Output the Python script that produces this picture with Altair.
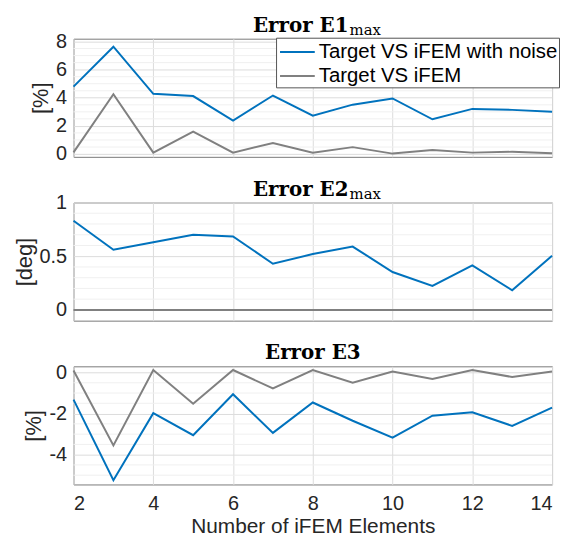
import altair as alt
import pandas as pd

x_vals = list(range(2, 15))
x_ticks = [2, 4, 6, 8, 10, 12, 14]
series = ["Target VS iFEM with noise", "Target VS iFEM"]
colors = ["#0072BD", "#808080"]

e1_noise = [4.79, 7.63, 4.28, 4.12, 2.38, 4.16, 2.73, 3.51, 3.95, 2.47, 3.21, 3.14, 3.0]
e1_clean = [0.12, 4.25, 0.1, 1.6, 0.1, 0.79, 0.1, 0.49, 0.03, 0.28, 0.1, 0.16, 0.06]
e2_noise = [0.83, 0.56, 0.63, 0.70, 0.684, 0.43, 0.52, 0.59, 0.353, 0.223, 0.415, 0.183, 0.505]
e2_clean = [0, 0, 0, 0, 0, 0, 0, 0, 0, 0, 0, 0, 0]
e3_noise = [-1.32, -5.24, -1.98, -3.05, -1.06, -2.94, -1.46, -2.35, -3.17, -2.1, -1.94, -2.6, -1.71]
e3_clean = [0.1, -3.55, 0.12, -1.52, 0.12, -0.78, 0.12, -0.5, 0.05, -0.32, 0.12, -0.22, 0.05]

e1_major = [0, 2, 4, 6, 8]
e1_minor = [0.5, 1, 1.5, 2.5, 3, 3.5, 4.5, 5, 5.5, 6.5, 7, 7.5]
e2_major = [0, 0.5, 1]
e2_minor = [0.1, 0.2, 0.3, 0.4, 0.6, 0.7, 0.8, 0.9]
e3_major = [-4, -2, 0]
e3_minor = [-5, -4.5, -3.5, -3, -2.5, -1.5, -1, -0.5]

W = 482
FONT = "Liberation Sans"
SPLIT = 277


def panel(noise, clean, domain, major, minor, ytitle, tmain, tsub, show_x, legend, h):
    df = pd.DataFrame({
        "x": x_vals + x_vals,
        "y": noise + clean,
        "s": [series[0]] * len(x_vals) + [series[1]] * len(x_vals),
    })
    yscale = alt.Scale(domain=domain, nice=False, zero=False)
    xscale = alt.Scale(domain=[2, 14], nice=False, zero=False)
    if show_x:
        xaxis = alt.Axis(values=x_ticks, grid=True, title="Number of iFEM Elements",
                         labelPadding=9, titlePadding=2, titleFontSize=21)
    else:
        xaxis = alt.Axis(values=x_ticks, grid=True, labels=False, title=None)
    yaxis = alt.Axis(values=major, title=ytitle, labelExpr="datum.value + ''",
                     labelPadding=7, titlePadding=3)
    minor_rules = alt.Chart(pd.DataFrame({"y": minor})).mark_rule(
        color="#f0f0f0", strokeWidth=1
    ).encode(y=alt.Y("y:Q", scale=yscale, axis=yaxis))
    if legend:
        leg = alt.Legend(orient="none", legendX=204, legendY=-1, title=None,
                         strokeColor="#555555", fillColor="white", padding=1,
                         labelFontSize=20.5, labelFont=FONT, labelColor="black",
                         symbolType="M-1.4,0H1.4", symbolStrokeWidth=2, symbolSize=625,
                         symbolOffset=7, labelOffset=8, labelLimit=0, rowPadding=-3,
                         cornerRadius=0)
    else:
        leg = None
    lines = alt.Chart(df).mark_line(strokeWidth=2).encode(
        x=alt.X("x:Q", scale=xscale, axis=xaxis),
        y=alt.Y("y:Q", scale=yscale, axis=yaxis),
        color=alt.Color("s:N", scale=alt.Scale(domain=series, range=colors), legend=leg),
    )
    layers = [minor_rules, lines]
    if tsub:
        t1 = alt.Chart(pd.DataFrame({"t": [tmain]})).mark_text(
            font="DejaVu Serif", fontWeight="bold", fontSize=20, align="right",
            baseline="alphabetic", color="black"
        ).encode(x=alt.value(SPLIT), y=alt.value(-7), text="t:N")
        t2 = alt.Chart(pd.DataFrame({"t": [tsub]})).mark_text(
            font="DejaVu Serif", fontSize=15, align="left",
            baseline="alphabetic", color="black"
        ).encode(x=alt.value(SPLIT + 1), y=alt.value(-4), text="t:N")
        layers += [t1, t2]
    else:
        t1 = alt.Chart(pd.DataFrame({"t": [tmain]})).mark_text(
            font="DejaVu Serif", fontWeight="bold", fontSize=20, align="center",
            baseline="alphabetic", color="black"
        ).encode(x=alt.value(W / 2), y=alt.value(-7), text="t:N")
        layers += [t1]
    return alt.layer(*layers).properties(width=W, height=h)


p1 = panel(e1_noise, e1_clean, [-0.2, 8.2], e1_major, e1_minor, "[%]", "Error E1", "max", False, True, 119)
p2 = panel(e2_noise, e2_clean, [-0.1, 1.0], e2_major, e2_minor, "[deg]", "Error E2", "max", False, False, 119)
p3 = panel(e3_noise, e3_clean, [-5.45, 0.3], e3_major, e3_minor, "[%]", "Error E3", None, True, False, 119)

chart = alt.vconcat(p1, p2, p3, spacing=46, bounds="flush").resolve_scale(
    color="independent", y="independent"
).properties(
    padding={"left": 4, "top": 5, "right": 0, "bottom": 0}
).configure_view(
    stroke="#7a7a7a", strokeWidth=1
).configure_axis(
    labelFont=FONT, titleFont=FONT, labelFontSize=20, titleFontSize=22,
    labelColor="#262626", titleColor="#262626", titleFontWeight="normal",
    gridColor="#dcdcdc", gridWidth=1, domain=False, ticks=False
)

chart.save("out.html", embed_options={"renderer": "svg", "actions": False})
